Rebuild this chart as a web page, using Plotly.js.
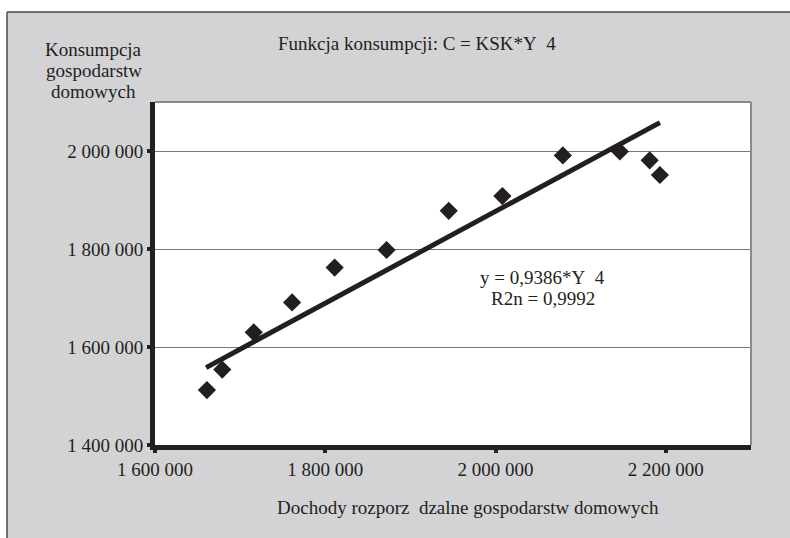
<!DOCTYPE html>
<html>
<head>
<meta charset="utf-8">
<script src="https://cdn.plot.ly/plotly-3.0.1.min.js"></script>
<style>html,body{margin:0;padding:0;background:#fff;}#chart{width:790px;height:538px;}</style>
</head>
<body>
<div id="chart"></div>
<script>
// Data
var incomeX = [1661000, 1679000, 1716000, 1761000, 1811000, 1872000, 1945000, 2008000, 2079000, 2146000, 2181000, 2193000];
var consumptionY = [1512000, 1554000, 1630000, 1691000, 1762000, 1798000, 1878000, 1908000, 1991000, 1999000, 1981000, 1951000];
var trendX = [1660000, 2193000];
var trendY = [1558000, 2058000];
var xTickVals = [1600000, 1800000, 2000000, 2200000];
var yTickVals = [1400000, 1600000, 1800000, 2000000];

var chartTitle = 'Funkcja konsumpcji: C = KSK*Y\u00a0\u00a04';
var yTitleLines = ['Konsumpcja', 'gospodarstw', 'domowych'];
var xTitle = 'Dochody rozporz\u00a0\u00a0dzalne gospodarstw domowych';
var eqLines = ['y = 0,9386*Y\u00a0\u00a04', 'R2n = 0,9992'];

var ink = '#231f20';
var fontFam = '"Liberation Serif", "Times New Roman", serif';
var fs = 19;

var traces = [
  {
    x: trendX, y: trendY, type: 'scatter', mode: 'lines',
    line: {color: ink, width: 5}, hoverinfo: 'skip'
  },
  {
    x: incomeX, y: consumptionY, type: 'scatter', mode: 'markers',
    marker: {symbol: 'diamond', size: 14, color: ink, line: {width: 0}}
  }
];

var yTitleY = [1.1545, 1.0904, 1.0292];
var annotations = [
  {text: chartTitle, x: 0.4396, y: 1.1691, xref: 'paper', yref: 'paper', xanchor: 'center', yanchor: 'middle', showarrow: false, font: {family: fontFam, size: fs, color: ink}},
  {text: xTitle, x: 0.5252, y: -0.1808, xref: 'paper', yref: 'paper', xanchor: 'center', yanchor: 'middle', showarrow: false, font: {family: fontFam, size: fs, color: ink}},
  {text: eqLines[0], x: 0.651, y: 0.4869, xref: 'paper', yref: 'paper', xanchor: 'center', yanchor: 'middle', showarrow: false, font: {family: fontFam, size: fs, color: ink}},
  {text: eqLines[1], x: 0.651, y: 0.4257, xref: 'paper', yref: 'paper', xanchor: 'center', yanchor: 'middle', showarrow: false, font: {family: fontFam, size: fs, color: ink}}
];
yTitleLines.forEach(function (t, i) {
  annotations.push({text: t, x: -0.1029, y: yTitleY[i], xref: 'paper', yref: 'paper', xanchor: 'center', yanchor: 'middle', showarrow: false, font: {family: fontFam, size: fs, color: ink}});
});

var shapes = [
  // white strips outside the outer frame
  {type: 'rect', xref: 'paper', yref: 'paper', x0: -0.3, x1: 1.2, y0: 1.2624, y1: 1.4, fillcolor: '#ffffff', line: {width: 0}, layer: 'below'},
  {type: 'rect', xref: 'paper', yref: 'paper', x0: -0.3, x1: -0.2483, y0: -0.4, y1: 1.4, fillcolor: '#ffffff', line: {width: 0}, layer: 'below'},
  // outer frame lines
  {type: 'line', xref: 'paper', yref: 'paper', x0: -0.2483, x1: 1.2, y0: 1.2624, y1: 1.2624, line: {color: '#4a4a4a', width: 1.5}},
  {type: 'line', xref: 'paper', yref: 'paper', x0: -0.2483, x1: -0.2483, y0: -0.4, y1: 1.2624, line: {color: '#4a4a4a', width: 1.5}},
  // plot area top and right border
  {type: 'line', xref: 'paper', yref: 'paper', x0: 0, x1: 1, y0: 1, y1: 1, line: {color: '#8a8a8a', width: 2}},
  {type: 'line', xref: 'paper', yref: 'paper', x0: 1, x1: 1, y0: 0, y1: 1, line: {color: '#8a8a8a', width: 2}}
];

var layout = {
  width: 790, height: 538,
  margin: {l: 155, r: 39, t: 102, b: 93, pad: 0},
  paper_bgcolor: '#d3d3d5',
  plot_bgcolor: '#ffffff',
  separators: ', ',
  showlegend: false,
  font: {family: fontFam, size: fs, color: ink},
  xaxis: {
    range: [1600000, 2300000], tickvals: xTickVals, tickformat: ',d',
    showgrid: false, zeroline: false,
    showline: true, linecolor: ink, linewidth: 5,
    ticks: 'outside', ticklen: 3, tickwidth: 4, tickcolor: ink,
    tickfont: {family: fontFam, size: fs, color: ink}
  },
  yaxis: {
    range: [1400000, 2100000], tickvals: yTickVals, tickformat: ',d',
    showgrid: true, gridcolor: '#777777', gridwidth: 1, zeroline: false,
    showline: true, linecolor: ink, linewidth: 5,
    ticks: 'outside', ticklen: 3, tickwidth: 4, tickcolor: ink,
    tickfont: {family: fontFam, size: fs, color: ink}
  },
  annotations: annotations,
  shapes: shapes
};

Plotly.newPlot('chart', traces, layout, {staticPlot: true, displayModeBar: false});
</script>
</body>
</html>
